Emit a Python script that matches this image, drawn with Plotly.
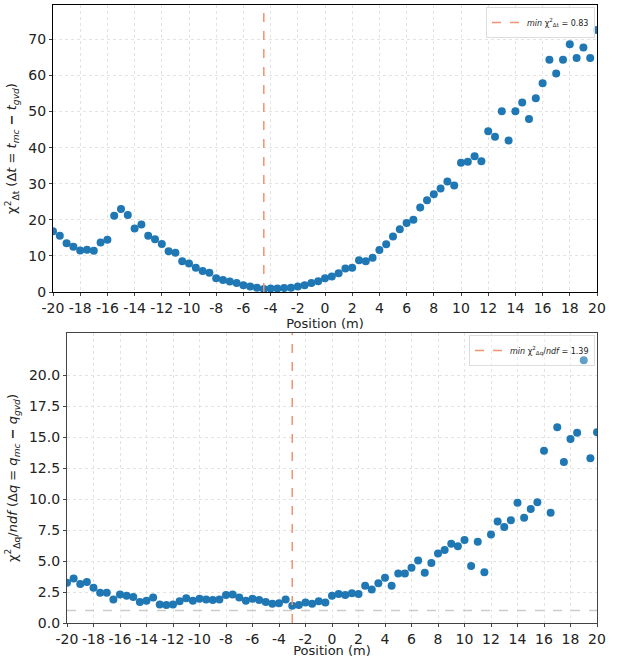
import numpy as np
import plotly.graph_objects as go

positions = [round(-20 + 0.5 * i, 1) for i in range(81)]

chi2_dt = [16.8, 15.6, 13.5, 12.5, 11.5, 11.7, 11.4, 13.7, 14.5, 21.1,
           23.0, 21.3, 17.6, 18.7, 15.6, 14.6, 13.3, 11.3, 10.9, 8.5,
           7.9, 6.7, 5.8, 5.3, 3.8, 3.3, 2.9, 2.5, 1.9, 1.5,
           1.2, 0.83, 0.95, 1.0, 1.1, 1.2, 1.5, 1.9, 2.5, 3.0,
           3.8, 4.3, 5.2, 6.5, 6.7, 8.8, 8.5, 9.5, 11.6, 13.2,
           15.4, 17.4, 19.1, 20.0, 23.4, 25.4, 27.1, 28.7, 30.6, 29.5,
           35.8, 36.1, 37.6, 36.2, 44.5, 43.0, 50.1, 42.0, 50.1, 52.5,
           47.9, 53.7, 57.8, 64.3, 60.5, 64.3, 68.6, 64.8, 67.7, 64.8,
           72.6]

chi2_dq = [3.25, 3.6, 3.15, 3.3, 2.85, 2.45, 2.45, 1.9, 2.3, 2.2,
           2.1, 1.7, 1.8, 2.05, 1.5, 1.45, 1.5, 1.75, 2.0, 1.8,
           1.95, 1.9, 1.85, 1.9, 2.25, 2.3, 2.05, 1.8, 1.95, 1.85,
           1.7, 1.55, 1.6, 1.9, 1.39, 1.45, 1.65, 1.55, 1.75, 1.65,
           2.2, 2.35, 2.25, 2.4, 2.35, 3.0, 2.7, 3.2, 3.65, 3.0,
           4.0, 4.0, 4.45, 5.05, 4.05, 4.85, 5.6, 5.9, 6.4, 6.2,
           6.7, 4.6, 6.55, 4.1, 7.15, 8.2, 7.75, 8.3, 9.7, 8.5,
           9.2, 9.75, 13.9, 8.9, 15.8, 13.0, 14.85, 15.35, 21.2, 13.3,
           15.4]

x_tickvals = list(range(-20, 21, 2))
x_ticktext = [str(v) for v in x_tickvals]
top_yticks = list(range(0, 71, 10))
bot_yticks = [0, 2.5, 5, 7.5, 10, 12.5, 15, 17.5, 20]
ref_level = 1.0

top_min_i = int(np.argmin(chi2_dt))
bot_min_i = int(np.argmin(chi2_dq))
top_xmin, top_vmin = positions[top_min_i], chi2_dt[top_min_i]
bot_xmin, bot_vmin = positions[bot_min_i], chi2_dq[bot_min_i]

TOP_YMAX = 79.5
BOT_YMAX = 23.4

W, H = 618, 658
blue = "#1f77b4"
orange = "#f2926e"
font = "DejaVu Sans"

fig = go.Figure()

fig.add_trace(go.Scatter(
    x=positions, y=chi2_dt, mode="markers", xaxis="x", yaxis="y",
    marker=dict(color=blue, size=8), showlegend=False))
fig.add_trace(go.Scatter(
    x=[top_xmin, top_xmin], y=[0, TOP_YMAX], mode="lines", xaxis="x", yaxis="y",
    line=dict(color=orange, width=1.5, dash="dash"),
    name="<i>min</i> χ<sup>2</sup><sub>Δt</sub> = %.2f" % top_vmin,
    legend="legend"))

fig.add_trace(go.Scatter(
    x=[-20, 20], y=[ref_level, ref_level], mode="lines", xaxis="x2", yaxis="y2",
    line=dict(color="#cccccc", width=1.5, dash="dash"), showlegend=False))
fig.add_trace(go.Scatter(
    x=positions, y=chi2_dq, mode="markers", xaxis="x2", yaxis="y2",
    marker=dict(color=blue, size=8), showlegend=False))
fig.add_trace(go.Scatter(
    x=[bot_xmin, bot_xmin], y=[0, BOT_YMAX], mode="lines", xaxis="x2", yaxis="y2",
    line=dict(color=orange, width=1.5, dash="dash"),
    name="<i>min</i> χ<sup>2</sup><sub>Δq</sub>/<i>ndf</i> = %.2f" % bot_vmin,
    legend="legend2"))

axis_common = dict(
    showgrid=True, gridcolor="#e3e3e3", griddash="dot", gridwidth=1,
    zeroline=False, ticks="outside", ticklen=3, tickwidth=1,
    showline=True, mirror=True, automargin=False,
    tickfont=dict(family=font, size=14, color="#222"),
)

legend_common = dict(
    xanchor="right", yanchor="top",
    bordercolor="#dddddd", borderwidth=1,
    font=dict(size=8, family=font), itemwidth=30, tracegroupgap=0,
)

fig.update_layout(
    width=W, height=H,
    margin=dict(l=0, r=0, t=0, b=0, autoexpand=False),
    paper_bgcolor="white", plot_bgcolor="white",
    font=dict(family=font, color="#222"),
    xaxis=dict(domain=[53 / W, 597 / W], anchor="y", range=[-20, 20],
               tickvals=x_tickvals, ticktext=x_ticktext,
               linecolor="black", linewidth=1.3,
               title=dict(text="Position (m)", font=dict(size=13), standoff=0),
               **axis_common),
    yaxis=dict(domain=[1 - 292 / H, 1 - 5 / H], anchor="x", range=[0, TOP_YMAX],
               tickvals=top_yticks,
               linecolor="black", linewidth=1.3,
               title=dict(text="χ<sup>2</sup><sub>Δt</sub> (Δ<i>t</i> = <i>t<sub>mc</sub></i> <b>−</b> <i>t<sub>gvd</sub></i>)",
                          font=dict(size=13), standoff=8),
               **axis_common),
    xaxis2=dict(domain=[67 / W, 597 / W], anchor="y2", range=[-20, 20],
                tickvals=x_tickvals, ticktext=x_ticktext,
                linecolor="#444", linewidth=1.3,
                title=dict(text="Position (m)", font=dict(size=13), standoff=5),
                **axis_common),
    yaxis2=dict(domain=[1 - 623 / H, 1 - 333 / H], anchor="x2", range=[0, BOT_YMAX],
                tickvals=bot_yticks, tickformat=".1f",
                linecolor="#444", linewidth=1.3,
                title=dict(text="χ<sup>2</sup><sub>Δq</sub>/<i>ndf</i> (Δ<i>q</i> = <i>q<sub>mc</sub></i> <b>−</b> <i>q<sub>gvd</sub></i>)",
                           font=dict(size=13), standoff=8),
                **axis_common),
    legend=dict(x=595 / W, y=1 - 7 / H, bgcolor="rgba(255,255,255,0.8)", **legend_common),
    legend2=dict(x=595 / W, y=1 - 335 / H, bgcolor="rgba(255,255,255,0.3)", **legend_common),
)

fig.write_html("out.html")
